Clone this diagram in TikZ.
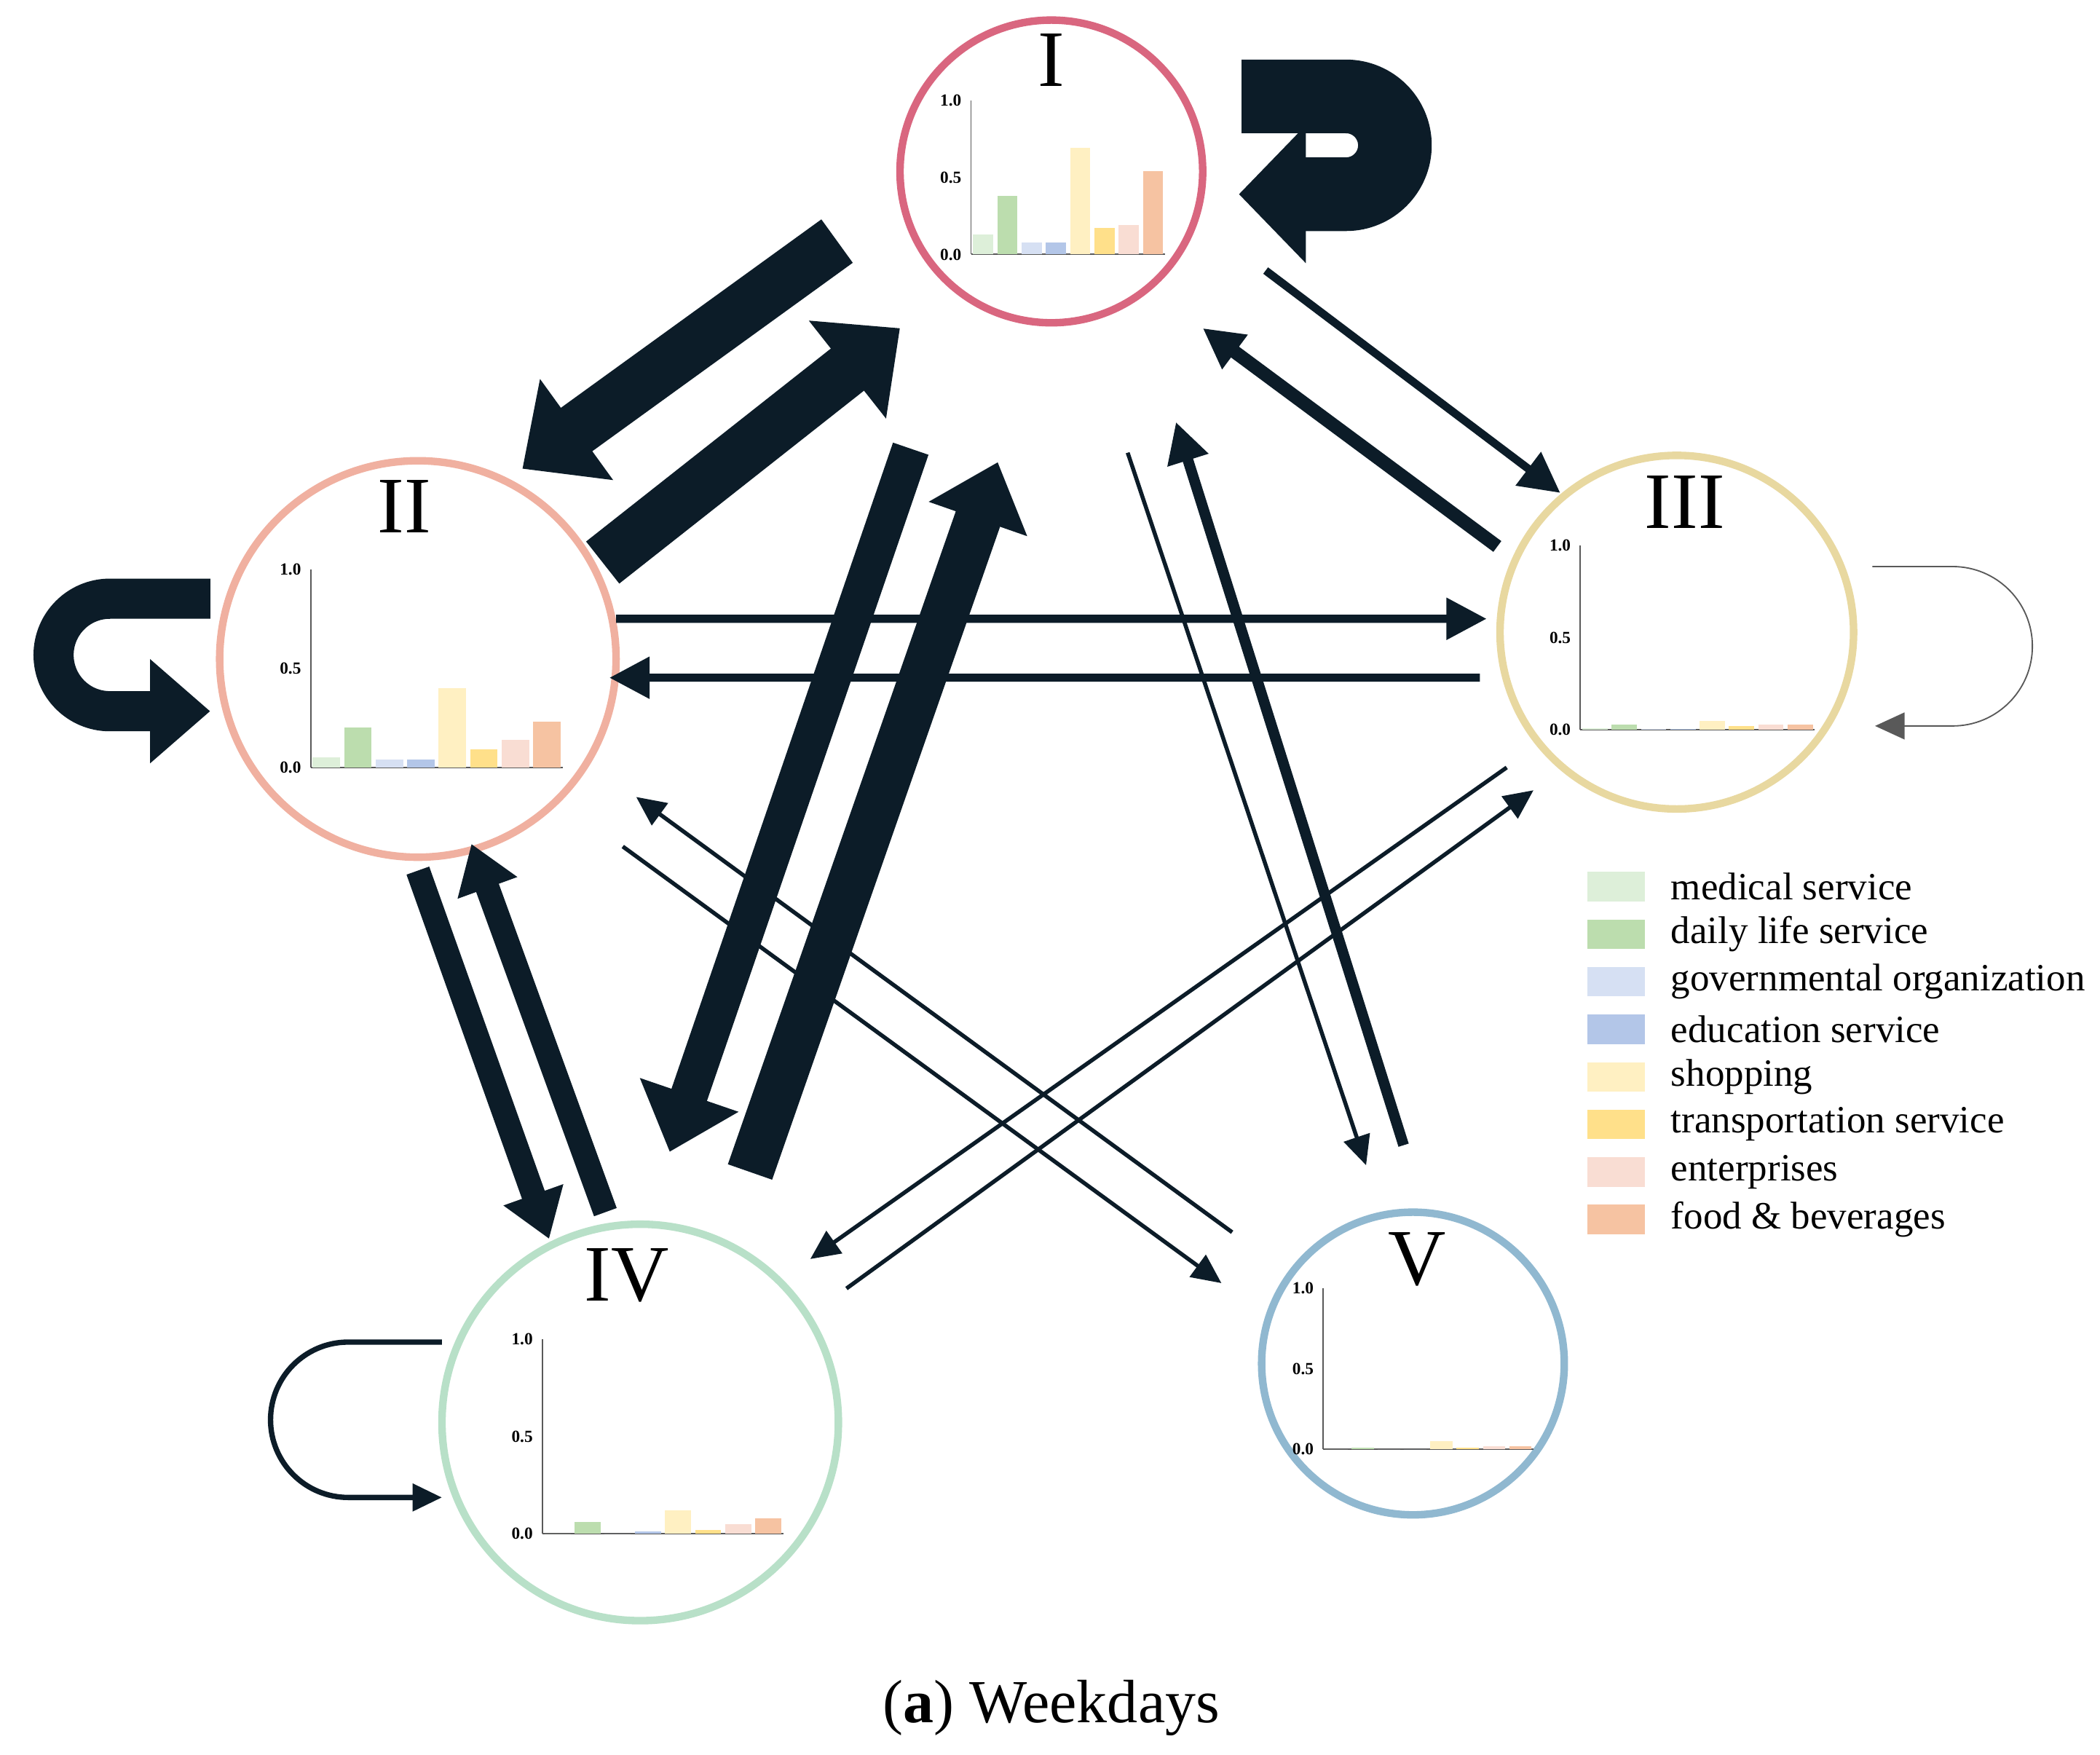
\documentclass[tikz,border=0pt]{standalone}
\usepackage{fontspec}
\setmainfont{Liberation Serif}
\usetikzlibrary{arrows.meta,calc}

\definecolor{cat1}{HTML}{DDEFD9}
\definecolor{cat2}{HTML}{BCDDAE}
\definecolor{cat3}{HTML}{D6E0F3}
\definecolor{cat4}{HTML}{B3C6E8}
\definecolor{cat5}{HTML}{FFF0C2}
\definecolor{cat6}{HTML}{FFE08A}
\definecolor{cat7}{HTML}{F9DDD3}
\definecolor{cat8}{HTML}{F6C3A2}
\definecolor{flowc}{HTML}{0C1C28}

\tikzset{
  zone/.style={circle, draw, line width=1.6pt, inner sep=0pt},
  zlabel/.style={font=\fontsize{17}{17}\selectfont},
  tick/.style={anchor=east, font=\fontsize{3.6}{4}\selectfont\bfseries, inner sep=1pt},
  axisline/.style={line width=0.3pt, gray!70!black},
  fat/.style={flowc, line width=0.4cm, -{Triangle[length=0.5cm,width=0.9cm]}},
  bold/.style={flowc, line width=0.3cm, -{Triangle[length=0.45cm,width=0.75cm]}},
  mid/.style={flowc, line width=0.18cm, -{Triangle[length=0.35cm,width=0.45cm]}},
  thin/.style={flowc, line width=0.08cm, -{Triangle[length=0.3cm,width=0.3cm]}},
  hair/.style={flowc, line width=0.03cm, -{Triangle[length=0.22cm,width=0.2cm]}},
}

% w h values
\newcommand{\barchart}[3]{%
  \draw[axisline] (0,0) -- (0,#2);
  \draw[axisline] (0,0) -- (#1,0);
  \foreach \v [count=\i] in {#3}
    \fill[cat\i] ({(\i-1)*#1/8+0.015},0) rectangle ({\i*#1/8-0.015},{\v*#2});
  \foreach \t in {0.0,0.5,1.0}
    \node[tick] at (-0.03,{\t*#2}) {\t};
}

\begin{document}
\begin{tikzpicture}
  \useasboundingbox (0,0) rectangle (15.68,13.10);

  % zones
  \node[zone, draw=cat8!40!red!60!pink, draw={rgb,255:red,217;green,102;blue,127}, minimum size=2.26cm] (nI) at (7.85,11.82) {};
  \node[zone, draw={rgb,255:red,240;green,176;blue,160}, minimum size=2.96cm] (nII) at (3.12,8.18) {};
  \node[zone, draw={rgb,255:red,232;green,216;blue,160}, minimum size=2.64cm] (nIII) at (12.52,8.38) {};
  \node[zone, draw={rgb,255:red,184;green,224;blue,200}, minimum size=2.96cm] (nIV) at (4.78,2.48) {};
  \node[zone, draw={rgb,255:red,144;green,184;blue,208}, minimum size=2.26cm] (nV) at (10.55,2.92) {};

  \node[zlabel] (lI) at ([shift={(0,0.83)}]nI.center) {I};
  \node[zlabel] (lII) at ([shift={(-0.10,1.14)}]nII.center) {II};
  \node[zlabel] (lIII) at ([shift={(0.06,0.97)}]nIII.center) {III};
  \node[zlabel] (lIV) at ([shift={(-0.10,1.10)}]nIV.center) {IV};
  \node[zlabel] (lV) at ([shift={(0.03,0.78)}]nV.center) {V};

  % charts
  \begin{scope}[shift={([shift={(-0.60,-0.62)}]nI.center)}]
    \barchart{1.45}{1.15}{0.13,0.38,0.08,0.08,0.69,0.17,0.19,0.54}
  \end{scope}
  \begin{scope}[shift={([shift={(-0.80,-0.81)}]nII.center)}]
    \barchart{1.88}{1.48}{0.05,0.20,0.04,0.04,0.40,0.09,0.14,0.23}
  \end{scope}
  \begin{scope}[shift={([shift={(-0.72,-0.73)}]nIII.center)}]
    \barchart{1.75}{1.38}{0.01,0.03,0.005,0.005,0.05,0.02,0.03,0.03}
  \end{scope}
  \begin{scope}[shift={([shift={(-0.73,-0.83)}]nIV.center)}]
    \barchart{1.80}{1.45}{0.0,0.06,0.0,0.01,0.12,0.02,0.05,0.08}
  \end{scope}
  \begin{scope}[shift={([shift={(-0.67,-0.64)}]nV.center)}]
    \barchart{1.57}{1.20}{0.0,0.01,0.0,0.0,0.05,0.01,0.02,0.02}
  \end{scope}

  % flows
  \draw[fat] ([shift={(-1.60,-0.52)}]nI.center) -- ([shift={(0.78,1.42)}]nII.center);
  \draw[fat] ([shift={(1.38,0.72)}]nII.center) -- ([shift={(-1.13,-1.17)}]nI.center);
  \draw[flowc, line width=0.55cm, -{Triangle[length=0.5cm,width=1.0cm]}]
    ([shift={(1.42,0.56)}]nI.center) -- ++(0.78,0) arc (90:-90:0.365)
    -- ([shift={(1.40,-0.17)}]nI.center);
  \draw[thin, line width=0.06cm] ([shift={(1.60,-0.74)}]nI.center) -- ([shift={(-0.87,1.04)}]nIII.center);
  \draw[thin, line width=0.1cm] ([shift={(-1.34,0.64)}]nIII.center) -- ([shift={(1.13,-1.17)}]nI.center);
  \draw[bold] ([shift={(-1.55,0.45)}]nII.center) -- ++(-0.75,0) arc (90:270:0.42)
    -- ([shift={(-1.55,-0.39)}]nII.center);
  \draw[thin, line width=0.06cm] ([shift={(1.48,0.30)}]nII.center) -- ([shift={(-1.42,0.10)}]nIII.center);
  \draw[thin, line width=0.06cm] ([shift={(-1.47,-0.34)}]nIII.center) -- ([shift={(1.43,-0.14)}]nII.center);
  \draw[mid] ([shift={(0,-1.58)}]nII.center) -- ([shift={(-0.68,1.37)}]nIV.center);
  \draw[mid] ([shift={(-0.26,1.57)}]nIV.center) -- ([shift={(0.40,-1.38)}]nII.center);
  \draw[bold, line width=0.28cm] ([shift={(-1.05,-2.07)}]nI.center) -- ([shift={(0.22,2.02)}]nIV.center);
  \draw[bold, line width=0.35cm] ([shift={(0.82,1.87)}]nIV.center) -- ([shift={(-0.40,-2.17)}]nI.center);
  \draw[thin] ([shift={(-0.07,1.63)}]nV.center) -- ([shift={(0.93,-1.87)}]nI.center);
  \draw[hair] ([shift={(0.57,-2.10)}]nI.center) -- ([shift={(-0.35,1.48)}]nV.center);
  \draw[hair] ([shift={(1.53,-1.40)}]nII.center) -- ([shift={(-1.43,0.60)}]nV.center);
  \draw[hair] ([shift={(-1.35,0.98)}]nV.center) -- ([shift={(1.63,-1.03)}]nII.center);
  \draw[hair] ([shift={(-1.27,-1.01)}]nIII.center) -- ([shift={(1.27,1.22)}]nIV.center);
  \draw[hair] ([shift={(1.54,1.00)}]nIV.center) -- ([shift={(-1.07,-1.18)}]nIII.center);
  \draw[hair, line width=0.01cm, gray!70!black] ([shift={(1.46,0.49)}]nIII.center) -- ++(0.6,0) arc (90:-90:0.595)
    -- ([shift={(1.48,-0.70)}]nIII.center);
  \draw[hair, line width=0.04cm] ([shift={(-1.48,0.60)}]nIV.center) -- ++(-0.7,0) arc (90:270:0.58)
    -- ([shift={(-1.48,-0.56)}]nIV.center);

  % legend
  \foreach \txt [count=\i] in {medical service, daily life service, governmental organization,
      education service, shopping, transportation service, enterprises, food \& beverages}
  {
    \fill[cat\i] (11.85,{6.48-0.355*(\i-1)-0.11}) rectangle (12.28,{6.48-0.355*(\i-1)+0.11});
    \node[anchor=west, font=\fontsize{8.2}{9}\selectfont, inner sep=0pt] (leg\i) at (12.47,{6.48-0.355*(\i-1)}) {\txt};
  }

  \node[font=\fontsize{13}{15}\selectfont] (cap) at (7.85,0.35) {(\textbf{a}) Weekdays};
\end{tikzpicture}
\end{document}
